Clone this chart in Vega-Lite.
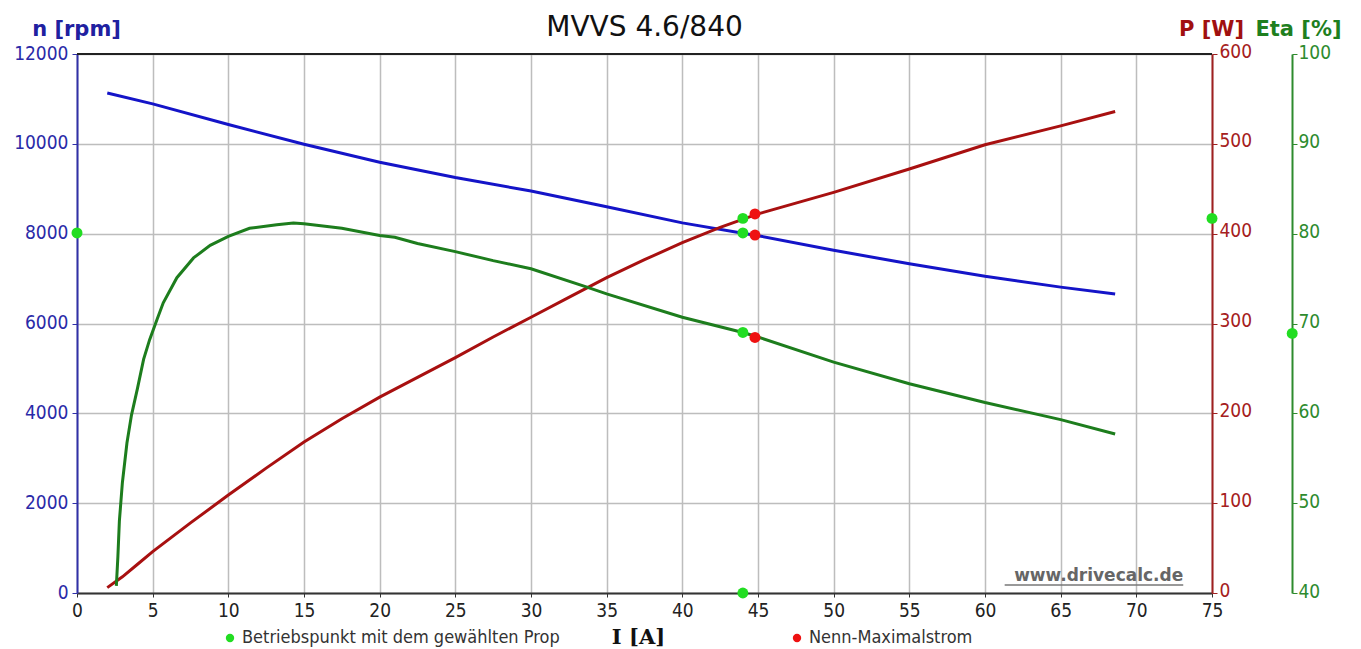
{
  "$schema": "https://vega.github.io/schema/vega-lite/v6.json",
  "width": 1135,
  "height": 539,
  "autosize": {"type": "none"},
  "padding": {"left": 77, "top": 54, "right": 149, "bottom": 56},
  "background": "white",
  "title": {"text": "MVVS 4.6/840", "anchor": "middle", "frame": "group", "font": "DejaVu Sans", "fontSize": 28, "fontWeight": "normal", "color": "#111111", "dy": 28},
  "config": {
    "view": {"stroke": null},
    "axis": {"labelFont": "DejaVu Sans Condensed", "labelFontSize": 19, "titleFont": "DejaVu Sans", "titleFontWeight": "bold", "titleFontSize": 21, "gridColor": "#bdbdbd", "gridWidth": 1.5, "labelFlush": false, "labelOverlap": false, "format": "d"}
  },
  "datasets": {
    "nLine": [
      {"I": 2.0, "n": 11130}, {"I": 5, "n": 10890}, {"I": 10, "n": 10430}, {"I": 15, "n": 9990},
      {"I": 20, "n": 9590}, {"I": 25, "n": 9250}, {"I": 30, "n": 8950}, {"I": 35, "n": 8600},
      {"I": 40, "n": 8240}, {"I": 44, "n": 8010}, {"I": 45, "n": 7955}, {"I": 50, "n": 7630},
      {"I": 55, "n": 7330}, {"I": 60, "n": 7050}, {"I": 65, "n": 6810}, {"I": 68.6, "n": 6655}
    ],
    "pLine": [
      {"I": 2.0, "P": 6}, {"I": 3, "P": 18}, {"I": 4, "P": 32}, {"I": 5, "P": 46}, {"I": 7.5, "P": 78},
      {"I": 10, "P": 109}, {"I": 12.5, "P": 139}, {"I": 15, "P": 168}, {"I": 17.5, "P": 194},
      {"I": 20, "P": 218}, {"I": 22.5, "P": 240}, {"I": 25, "P": 262}, {"I": 27.5, "P": 285},
      {"I": 30, "P": 307}, {"I": 32.5, "P": 329}, {"I": 35, "P": 351}, {"I": 37.5, "P": 371},
      {"I": 40, "P": 390}, {"I": 42.5, "P": 407}, {"I": 45, "P": 422}, {"I": 47.5, "P": 434},
      {"I": 50, "P": 446}, {"I": 55, "P": 472}, {"I": 60, "P": 499}, {"I": 65, "P": 520}, {"I": 68.6, "P": 536}
    ],
    "etaLine": [
      {"I": 2.6, "eta": 40.8}, {"I": 2.7, "eta": 44}, {"I": 2.8, "eta": 48}, {"I": 3.0, "eta": 52.3},
      {"I": 3.3, "eta": 56.7}, {"I": 3.6, "eta": 59.8}, {"I": 4.0, "eta": 62.8}, {"I": 4.4, "eta": 66.0},
      {"I": 4.8, "eta": 68.2}, {"I": 5.3, "eta": 70.5}, {"I": 5.7, "eta": 72.3}, {"I": 6.6, "eta": 75.1},
      {"I": 7.7, "eta": 77.3}, {"I": 8.8, "eta": 78.7}, {"I": 10, "eta": 79.7}, {"I": 11.4, "eta": 80.6},
      {"I": 13.2, "eta": 81.0}, {"I": 14.3, "eta": 81.2}, {"I": 15, "eta": 81.1}, {"I": 17.5, "eta": 80.6},
      {"I": 20, "eta": 79.8}, {"I": 21, "eta": 79.6}, {"I": 22.5, "eta": 78.9}, {"I": 25, "eta": 78.0},
      {"I": 27.5, "eta": 77.0}, {"I": 30, "eta": 76.1}, {"I": 33.6, "eta": 74.1}, {"I": 35, "eta": 73.3},
      {"I": 40, "eta": 70.7}, {"I": 44, "eta": 69.0}, {"I": 45, "eta": 68.5}, {"I": 50, "eta": 65.7},
      {"I": 55, "eta": 63.3}, {"I": 60, "eta": 61.2}, {"I": 65, "eta": 59.3}, {"I": 68.6, "eta": 57.7}
    ],
    "pts": [
      {"I": 0, "n": 8015, "k": "Betriebspunkt mit dem gewählten Prop"},
      {"I": 44.0, "n": 0, "k": "Betriebspunkt mit dem gewählten Prop"},
      {"I": 44.0, "n": 8015, "k": "Betriebspunkt mit dem gewählten Prop"},
      {"I": 44.0, "P": 417, "k": "Betriebspunkt mit dem gewählten Prop"},
      {"I": 75, "P": 417, "k": "Betriebspunkt mit dem gewählten Prop"},
      {"I": 44.0, "eta": 69.0, "k": "Betriebspunkt mit dem gewählten Prop"},
      {"I": 80.3, "eta": 68.9, "k": "Betriebspunkt mit dem gewählten Prop"},
      {"I": 44.8, "n": 7970, "k": "Nenn-Maximalstrom"},
      {"I": 44.8, "P": 422, "k": "Nenn-Maximalstrom"},
      {"I": 44.8, "eta": 68.45, "k": "Nenn-Maximalstrom"}
    ],
    "wm": [{"t": "www.drivecalc.de", "I": 73.1, "n": 267, "I1": 61.3, "I2": 73.1, "u": 180}],
    "top": [{"n": 12000}]
  },
  "layer": [
    {
      "layer": [
        {
          "data": {"name": "nLine"},
          "mark": {"type": "line", "color": "#1414c8", "strokeWidth": 3},
          "encoding": {
            "x": {"field": "I", "type": "quantitative", "scale": {"domain": [0, 75], "nice": false, "zero": false},
              "axis": {"orient": "bottom", "values": [0,5,10,15,20,25,30,35,40,45,50,55,60,65,70,75], "grid": true, "domainColor": "#333333", "domainWidth": 2, "tickColor": "#333333", "tickSize": 4, "labelColor": "#222222", "labelPadding": 4,
                "title": "I [A]", "titleFont": "DejaVu Serif", "titleFontWeight": "bold", "titleFontSize": 21, "titleColor": "#111111", "titleX": 561, "titleY": 50, "titleAlign": "center", "titleBaseline": "alphabetic", "titleAnchor": null}},
            "y": {"field": "n", "type": "quantitative", "scale": {"domain": [0, 12000], "nice": false, "zero": false},
              "axis": {"orient": "left", "values": [0,2000,4000,6000,8000,10000,12000], "grid": true, "domainColor": "#3030a8", "domainWidth": 2, "tickColor": "#3030a8", "tickSize": 5, "labelColor": "#2a2aa8", "labelPadding": 4, "labelOffset": -1,
                "title": "n [rpm]", "titleColor": "#2020a0", "titleAngle": 0, "titleX": -1, "titleY": -19, "titleAlign": "center", "titleBaseline": "alphabetic", "titleAnchor": null}}
          }
        },
        {
          "data": {"name": "top"},
          "mark": {"type": "rule", "color": "#222222", "strokeWidth": 2},
          "encoding": {"y": {"field": "n", "type": "quantitative"}}
        },
        {
          "data": {"name": "wm"},
          "mark": {"type": "text", "align": "right", "baseline": "alphabetic", "font": "DejaVu Sans", "fontWeight": "bold", "fontSize": 17, "color": "#666666"},
          "encoding": {"x": {"field": "I", "type": "quantitative"}, "y": {"field": "n", "type": "quantitative"}, "text": {"field": "t"}}
        },
        {
          "data": {"name": "wm"},
          "mark": {"type": "rule", "color": "#777777", "strokeWidth": 1.5},
          "encoding": {"x": {"field": "I1", "type": "quantitative"}, "x2": {"field": "I2"}, "y": {"field": "u", "type": "quantitative"}}
        },
        {
          "data": {"name": "pts"},
          "mark": {"type": "circle", "size": 120, "opacity": 1},
          "encoding": {
            "x": {"field": "I", "type": "quantitative"},
            "y": {"field": "n", "type": "quantitative"},
            "color": {"field": "k", "type": "nominal",
              "scale": {"domain": ["Betriebspunkt mit dem gewählten Prop", "Nenn-Maximalstrom"], "range": ["#22dd22", "#ee1111"]},
              "legend": {"orient": "none", "direction": "horizontal", "legendX": 144, "legendY": 575, "title": null, "padding": 0, "columnPadding": 228, "symbolType": "circle", "symbolSize": 70, "symbolStrokeWidth": 0, "labelFont": "DejaVu Sans Condensed", "labelFontSize": 18, "labelColor": "#333333", "labelLimit": 500, "labelOffset": 3}}
          }
        }
      ]
    },
    {
      "layer": [
        {
          "data": {"name": "pLine"},
          "mark": {"type": "line", "color": "#a81010", "strokeWidth": 3},
          "encoding": {
            "x": {"field": "I", "type": "quantitative"},
            "y": {"field": "P", "type": "quantitative", "scale": {"domain": [0, 600], "nice": false, "zero": false},
              "axis": {"orient": "right", "values": [0,100,200,300,400,500,600], "grid": false, "domainColor": "#a02020", "domainWidth": 2, "tickColor": "#a02020", "tickSize": 5, "labelColor": "#a52020", "labelPadding": 2, "labelOffset": -3,
                "title": "P [W]", "titleColor": "#a01010", "titleAngle": 0, "titleX": -1, "titleY": -19, "titleAlign": "center", "titleBaseline": "alphabetic", "titleAnchor": null}}
          }
        },
        {
          "data": {"name": "pts"},
          "mark": {"type": "circle", "size": 120, "opacity": 1},
          "encoding": {
            "x": {"field": "I", "type": "quantitative"},
            "y": {"field": "P", "type": "quantitative"},
            "color": {"field": "k", "type": "nominal"}
          }
        }
      ]
    },
    {
      "layer": [
        {
          "data": {"name": "etaLine"},
          "mark": {"type": "line", "color": "#1d7d1d", "strokeWidth": 3},
          "encoding": {
            "x": {"field": "I", "type": "quantitative"},
            "y": {"field": "eta", "type": "quantitative", "scale": {"domain": [40, 100], "nice": false, "zero": false},
              "axis": {"orient": "right", "offset": 80, "values": [40,50,60,70,80,90,100], "grid": false, "domainColor": "#2e8b2e", "domainWidth": 2, "tickColor": "#2e8b2e", "tickSize": 5, "labelColor": "#2e8b2e", "labelPadding": 1, "labelOffset": -2,
                "title": "Eta [%]", "titleColor": "#1f7f1f", "titleAngle": 0, "titleX": 6, "titleY": -19, "titleAlign": "center", "titleBaseline": "alphabetic", "titleAnchor": null}}
          }
        },
        {
          "data": {"name": "pts"},
          "mark": {"type": "circle", "size": 120, "opacity": 1},
          "encoding": {
            "x": {"field": "I", "type": "quantitative"},
            "y": {"field": "eta", "type": "quantitative"},
            "color": {"field": "k", "type": "nominal"}
          }
        }
      ]
    }
  ],
  "resolve": {"scale": {"y": "independent"}}
}
